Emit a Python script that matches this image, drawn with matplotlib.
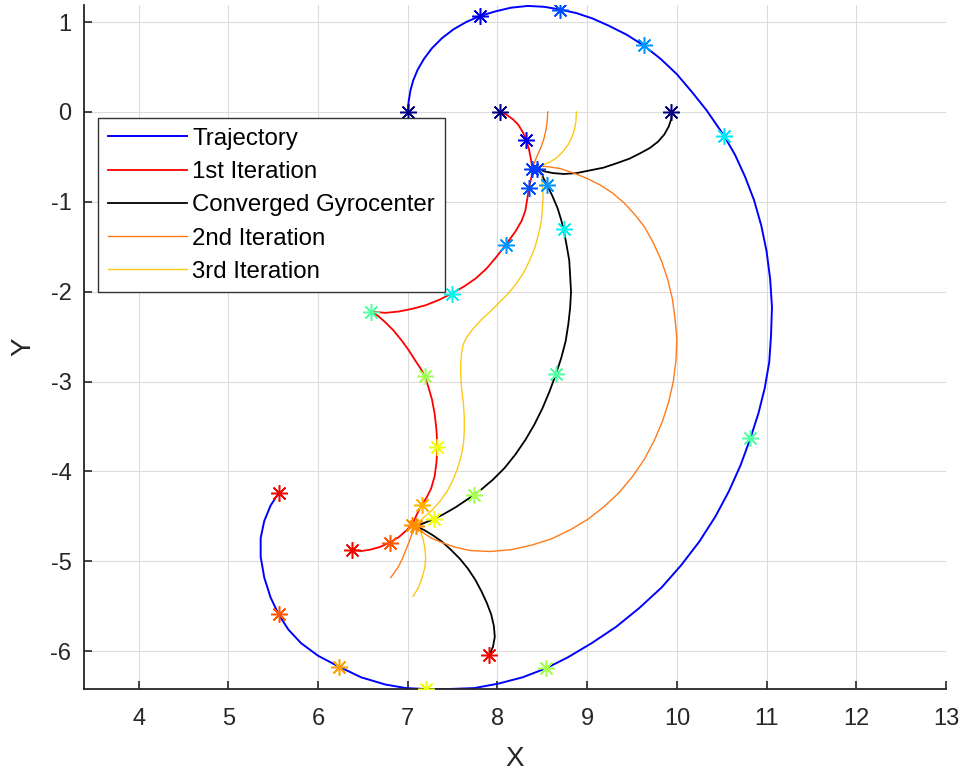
import numpy as np
import matplotlib.pyplot as plt
from matplotlib import cm

plt.rcParams['font.family'] = ['Liberation Sans', 'DejaVu Sans']
plt.rcParams['axes.unicode_minus'] = False

# trajectory (blue)
traj_x = [7.00, 7.01, 7.03, 7.06, 7.11, 7.18, 7.27, 7.38, 7.51, 7.65, 7.81, 7.98, 8.15, 8.34, 8.52,
          8.70, 8.88, 9.06, 9.24, 9.44, 9.63, 9.82, 10.00, 10.17, 10.33, 10.53, 10.65, 10.76, 10.86,
          10.94, 11.00, 11.04, 11.06, 11.05, 11.03, 10.98, 10.91, 10.82, 10.71, 10.58, 10.43, 10.25,
          10.05, 9.83, 9.58, 9.32, 9.05, 8.78, 8.54, 8.28, 8.01, 7.74, 7.46, 7.20, 6.98, 6.75, 6.48,
          6.23, 6.00, 5.81, 5.67, 5.56, 5.47, 5.40, 5.36, 5.36, 5.40, 5.47, 5.56]
traj_y = [0.00, 0.12, 0.24, 0.35, 0.47, 0.59, 0.71, 0.82, 0.92, 1.00, 1.07, 1.12, 1.16, 1.18, 1.17,
          1.14, 1.10, 1.04, 0.96, 0.86, 0.74, 0.59, 0.42, 0.22, 0.02, -0.27, -0.48, -0.72, -0.98,
          -1.26, -1.55, -1.86, -2.17, -2.48, -2.78, -3.07, -3.35, -3.63, -3.93, -4.22, -4.50, -4.78,
          -5.04, -5.29, -5.52, -5.73, -5.91, -6.07, -6.19, -6.29, -6.36, -6.41, -6.42, -6.42, -6.41,
          -6.37, -6.29, -6.17, -6.05, -5.91, -5.76, -5.59, -5.40, -5.18, -4.95, -4.74, -4.55, -4.38,
          -4.24]
traj_sx = [7.00, 7.81, 8.70, 9.63, 10.53, 10.82, 8.54, 7.20, 6.23, 5.56, 5.56]
traj_sy = [0.00, 1.07, 1.14, 0.74, -0.27, -3.63, -6.19, -6.42, -6.17, -5.59, -4.24]
traj_sc = [0.00, 0.09, 0.20, 0.27, 0.35, 0.45, 0.55, 0.64, 0.74, 0.82, 0.90]

# 1st iteration (red)
it1_x = [8.03, 8.10, 8.17, 8.23, 8.28, 8.32, 8.35, 8.37, 8.38, 8.39, 8.38, 8.35, 8.33, 8.31, 8.27,
         8.20, 8.09, 7.99, 7.88, 7.76, 7.63, 7.49, 7.35, 7.20, 7.05, 6.90, 6.75, 6.59, 6.67, 6.75,
         6.84, 6.93, 7.01, 7.08, 7.14, 7.19, 7.23, 7.27, 7.30, 7.32, 7.33, 7.32, 7.30, 7.26, 7.21,
         7.155, 7.10, 7.05, 6.98, 6.90, 6.80, 6.69, 6.58, 6.48, 6.38]
it1_y = [0.00, -0.03, -0.08, -0.14, -0.22, -0.31, -0.41, -0.51, -0.57, -0.63, -0.72, -0.85, -0.98,
         -1.10, -1.21, -1.33, -1.48, -1.61, -1.74, -1.85, -1.94, -2.02, -2.09, -2.15, -2.19, -2.22,
         -2.235, -2.22, -2.27, -2.34, -2.43, -2.54, -2.65, -2.76, -2.85, -2.94, -3.06, -3.20, -3.36,
         -3.54, -3.73, -3.90, -4.05, -4.19, -4.29, -4.37, -4.48, -4.59, -4.66, -4.73, -4.79, -4.84,
         -4.87, -4.885, -4.87]
it1_sx = [8.03, 8.32, 8.39, 8.35, 8.09, 7.49, 6.59, 7.19, 7.33, 7.155, 7.05, 6.80, 6.38]
it1_sy = [0.00, -0.31, -0.63, -0.85, -1.48, -2.02, -2.22, -2.94, -3.73, -4.37, -4.59, -4.79, -4.87]
it1_sc = [0.00, 0.09, 0.18, 0.20, 0.27, 0.36, 0.45, 0.55, 0.64, 0.72, 0.76, 0.82, 0.90]

# converged gyrocenter (black)
conv_x = [9.94, 9.94, 9.91, 9.86, 9.79, 9.70, 9.59, 9.47, 9.33, 9.18, 9.03, 8.88, 8.74, 8.62, 8.52,
          8.445, 8.50, 8.55, 8.61, 8.67, 8.71, 8.74, 8.77, 8.80, 8.81, 8.82, 8.81, 8.79, 8.76, 8.71,
          8.65, 8.58, 8.50, 8.41, 8.31, 8.20, 8.08, 7.95, 7.82, 7.68, 7.53, 7.39, 7.24, 7.09, 7.18,
          7.28, 7.38, 7.48, 7.58, 7.67, 7.75, 7.82, 7.88, 7.93, 7.96, 7.97, 7.95, 7.91]
conv_y = [0.00, -0.07, -0.16, -0.25, -0.33, -0.40, -0.46, -0.52, -0.57, -0.62, -0.65, -0.68, -0.69,
          -0.68, -0.66, -0.63, -0.71, -0.81, -0.93, -1.07, -1.20, -1.32, -1.48, -1.65, -1.82, -2.00,
          -2.18, -2.36, -2.55, -2.74, -2.92, -3.11, -3.30, -3.48, -3.65, -3.81, -3.96, -4.09, -4.20,
          -4.30, -4.40, -4.48, -4.55, -4.61, -4.65, -4.71, -4.78, -4.87, -4.97, -5.08, -5.20, -5.33,
          -5.46, -5.59, -5.72, -5.84, -5.95, -6.04]
conv_sx = [9.94, 8.445, 8.55, 8.74, 8.65, 7.74, 7.29, 7.09, 7.91]
conv_sy = [0.00, -0.63, -0.81, -1.30, -2.92, -4.26, -4.53, -4.61, -6.04]
conv_sc = [0.00, 0.18, 0.27, 0.36, 0.45, 0.55, 0.64, 0.76, 0.90]

# 2nd iteration (orange)
it2_x = [8.56, 8.555, 8.54, 8.52, 8.49, 8.45, 8.42, 8.40, 8.48, 8.57, 8.70, 8.85, 9.00, 9.14, 9.28,
         9.41, 9.53, 9.64, 9.74, 9.83, 9.90, 9.95, 9.98, 10.00, 9.99, 9.96, 9.91, 9.84, 9.75, 9.64,
         9.51, 9.36, 9.19, 9.01, 8.81, 8.60, 8.38, 8.15, 7.92, 7.70, 7.52, 7.38, 7.26, 7.17, 7.09,
         7.05, 7.02, 6.98, 6.94, 6.89, 6.81]
it2_y = [0.00, -0.10, -0.20, -0.29, -0.38, -0.47, -0.54, -0.60, -0.60, -0.61, -0.63, -0.68, -0.74,
         -0.81, -0.90, -1.01, -1.14, -1.28, -1.46, -1.66, -1.87, -2.08, -2.30, -2.53, -2.76, -3.00,
         -3.22, -3.44, -3.65, -3.86, -4.05, -4.23, -4.39, -4.53, -4.65, -4.75, -4.82, -4.87, -4.89,
         -4.88, -4.84, -4.79, -4.74, -4.68, -4.62, -4.68, -4.77, -4.87, -4.97, -5.07, -5.18]

# 3rd iteration (yellow)
it3_x = [8.88, 8.875, 8.86, 8.83, 8.79, 8.73, 8.66, 8.58, 8.47, 8.49, 8.50, 8.51, 8.50, 8.49, 8.46,
         8.42, 8.36, 8.29, 8.21, 8.12, 8.02, 7.92, 7.82, 7.73, 7.66, 7.62, 7.60, 7.59, 7.59, 7.60,
         7.62, 7.63, 7.63, 7.62, 7.59, 7.55, 7.50, 7.44, 7.36, 7.27, 7.18, 7.10, 7.14, 7.17, 7.19,
         7.20, 7.19, 7.16, 7.12, 7.06]
it3_y = [0.00, -0.10, -0.19, -0.28, -0.36, -0.44, -0.51, -0.56, -0.60, -0.70, -0.82, -0.95, -1.08,
         -1.21, -1.35, -1.50, -1.65, -1.79, -1.91, -2.02, -2.12, -2.22, -2.31, -2.41, -2.50, -2.58,
         -2.68, -2.80, -2.93, -3.08, -3.24, -3.40, -3.55, -3.70, -3.85, -3.98, -4.10, -4.22, -4.33,
         -4.43, -4.51, -4.58, -4.66, -4.75, -4.85, -4.96, -5.07, -5.18, -5.29, -5.39]

fig = plt.figure(figsize=(9.64, 7.72), dpi=100)
ax = fig.add_axes([0.0871, 0.1075, 0.8942, 0.886])

ax.plot(traj_x, traj_y, color='#0000ff', lw=1.4, label='Trajectory')
ax.plot(it1_x, it1_y, color='#ff0000', lw=1.3, label='1st Iteration')
ax.plot(conv_x, conv_y, color='black', lw=1.3, label='Converged Gyrocenter')
ax.plot(it2_x, it2_y, color='#ff7a1a', lw=1.0, label='2nd Iteration')
ax.plot(it3_x, it3_y, color='#ffc814', lw=1.0, label='3rd Iteration')

star = (8, 2, 0)
for sx, sy, sc in [(traj_sx, traj_sy, traj_sc), (it1_sx, it1_sy, it1_sc), (conv_sx, conv_sy, conv_sc)]:
    for x, y, c in zip(sx, sy, sc):
        ax.plot(x, y, marker=star, ms=12, mew=1.1, color=cm.jet(c), ls='none', zorder=5)

ax.set_xlim(3.39, 13)
ax.set_ylim(-6.42, 1.19)
ax.set_xticks(range(4, 14))
ax.set_yticks(range(-6, 2))
ax.grid(True, color='#dcdcdc', lw=0.8)
ax.set_axisbelow(True)
for s in ['top', 'right']:
    ax.spines[s].set_visible(False)
for s in ['left', 'bottom']:
    ax.spines[s].set_linewidth(1.3)
    ax.spines[s].set_color('#262626')
ax.tick_params(direction='in', length=6, width=1.2, color='#262626', labelcolor='#262626', labelsize=17)
ax.tick_params(axis='x', pad=14)
ax.tick_params(axis='y', pad=9)
ax.set_xlabel('X', fontsize=20, color='#262626', labelpad=11)
ax.set_ylabel('Y', fontsize=20, color='#262626', labelpad=10)

leg = ax.legend(loc='upper left', bbox_to_anchor=(0.0162, 0.8348), borderaxespad=0, fontsize=17.3,
                fancybox=False, framealpha=1, edgecolor='#333333', handlelength=3.3,
                handletextpad=0.23, labelspacing=0.47, borderpad=0.4)
leg.get_frame().set_linewidth(1.0)

fig.savefig('out.png', dpi=100)
